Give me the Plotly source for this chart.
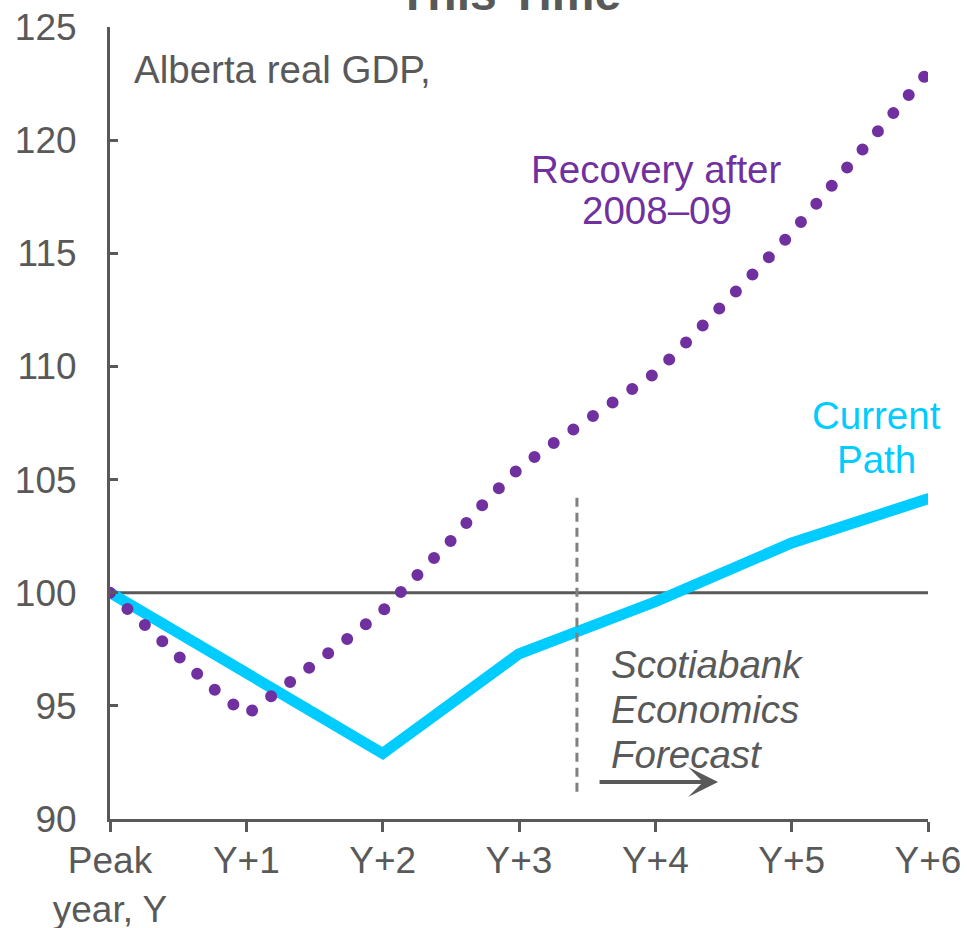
import plotly.graph_objects as go

# ---- data ----
year_positions = [0, 1, 2, 3, 4, 5, 6]
year_labels = ["Peak<br>year, Y", "Y+1", "Y+2", "Y+3", "Y+4", "Y+5", "Y+6"]
current_path = [100.0, 96.5, 92.9, 97.3, 99.6, 102.2, 104.15]

quarter_positions = [0, 0.25, 0.5, 0.75, 1, 1.25, 1.5, 1.75, 2, 2.25, 2.5, 2.75,
                     3, 3.25, 3.5, 3.75, 4, 4.25, 4.5, 4.75, 5, 5.25, 5.5, 5.75, 6]
recovery_2008_09 = [100.0, 98.6, 97.1, 95.8, 94.6, 95.7, 96.8, 98.0, 99.2, 100.7,
                    102.3, 104.0, 105.5, 106.6, 107.6, 108.6, 109.7, 111.2, 112.7,
                    114.3, 115.9, 117.7, 119.5, 121.3, 123.0]

y_ticks = [90, 95, 100, 105, 110, 115, 120, 125]
baseline_level = 100
forecast_start = 3.425

FONT = "Liberation Sans, Arial, sans-serif"
GRAY = "#595959"
CYAN = "#00CCFF"
PURPLE = "#7030A0"

fig = go.Figure()
fig.add_trace(go.Scatter(x=year_positions, y=current_path, mode="lines",
                         line=dict(color=CYAN, width=11), hoverinfo="skip",
                         showlegend=False))
fig.add_trace(go.Scatter(x=quarter_positions, y=recovery_2008_09, mode="lines",
                         line=dict(color=PURPLE, width=12, dash="0px,23.8px"),
                         hoverinfo="skip", showlegend=False))

fig.add_shape(type="line", xref="x", yref="y", x0=0, x1=6, y0=baseline_level,
              y1=baseline_level, line=dict(color=GRAY, width=3), layer="below")
fig.add_shape(type="line", xref="x", yref="y", x0=forecast_start, x1=forecast_start,
              y0=91.2, y1=104.32, line=dict(color="#808080", width=3, dash="9px,6px"))

fig.add_annotation(x=4.46, y=91.64, ax=3.58, ay=91.64, axref="x", ayref="y",
                   xref="x", yref="y", text="", showarrow=True, arrowhead=3,
                   arrowwidth=4, arrowsize=1.25, arrowcolor=GRAY, standoff=0)

def label(text, x, y, color, xanchor="center", size=38.5, italic=False, bold=False,
          xref="x", yref="y"):
    fig.add_annotation(x=x, y=y, xref=xref, yref=yref, text=text, showarrow=False,
                       xanchor=xanchor, yanchor="middle",
                       font=dict(family=FONT, size=size, color=color,
                                 style="italic" if italic else "normal",
                                 weight="bold" if bold else "normal"))

label("This Time", 2.927, 1.0429, GRAY, size=48, bold=True, yref="paper")
label("Alberta real GDP,", 0.16, 123.14, GRAY, xanchor="left")
label("Recovery after", 4.01, 118.72, PURPLE)
label("2008–09", 4.01, 116.91, PURPLE)
label("Current", 5.62, 107.85, CYAN)
label("Path", 5.62, 105.87, CYAN)
label("Scotiabank", 3.66, 96.81, GRAY, xanchor="left", italic=True)
label("Economics", 3.66, 94.86, GRAY, xanchor="left", italic=True)
label("Forecast", 3.66, 92.87, GRAY, xanchor="left", italic=True)

fig.update_layout(
    width=967, height=928,
    margin=dict(l=110, r=39, t=27, b=109, autoexpand=False),
    paper_bgcolor="white", plot_bgcolor="white",
    showlegend=False,
    font=dict(family=FONT, color=GRAY),
    xaxis=dict(range=[0, 6], tickvals=year_positions, ticktext=year_labels,
               ticks="outside", ticklen=10, tickwidth=3, tickcolor=GRAY,
               showline=True, linewidth=3, linecolor=GRAY, showgrid=False,
               zeroline=False, tickfont=dict(family=FONT, size=37, color=GRAY),
               ticklabelstandoff=-3, automargin=False),
    yaxis=dict(range=[90, 125], tickvals=y_ticks, ticks="inside", ticklen=8,
               tickwidth=3, tickcolor=GRAY, showline=True, linewidth=3,
               linecolor=GRAY, showgrid=False, zeroline=False,
               tickfont=dict(family=FONT, size=37, color=GRAY),
               ticklabelstandoff=23, automargin=False),
)

post = """
document.body.style.margin = '0';
document.body.style.padding = '0';
var gd = document.getElementById('{plot_id}');
gd.querySelectorAll('path.js-line').forEach(function(p){
  p.style.strokeLinecap = 'round';
});
"""
fig.write_html("out.html", post_script=post, config={"displayModeBar": False})
